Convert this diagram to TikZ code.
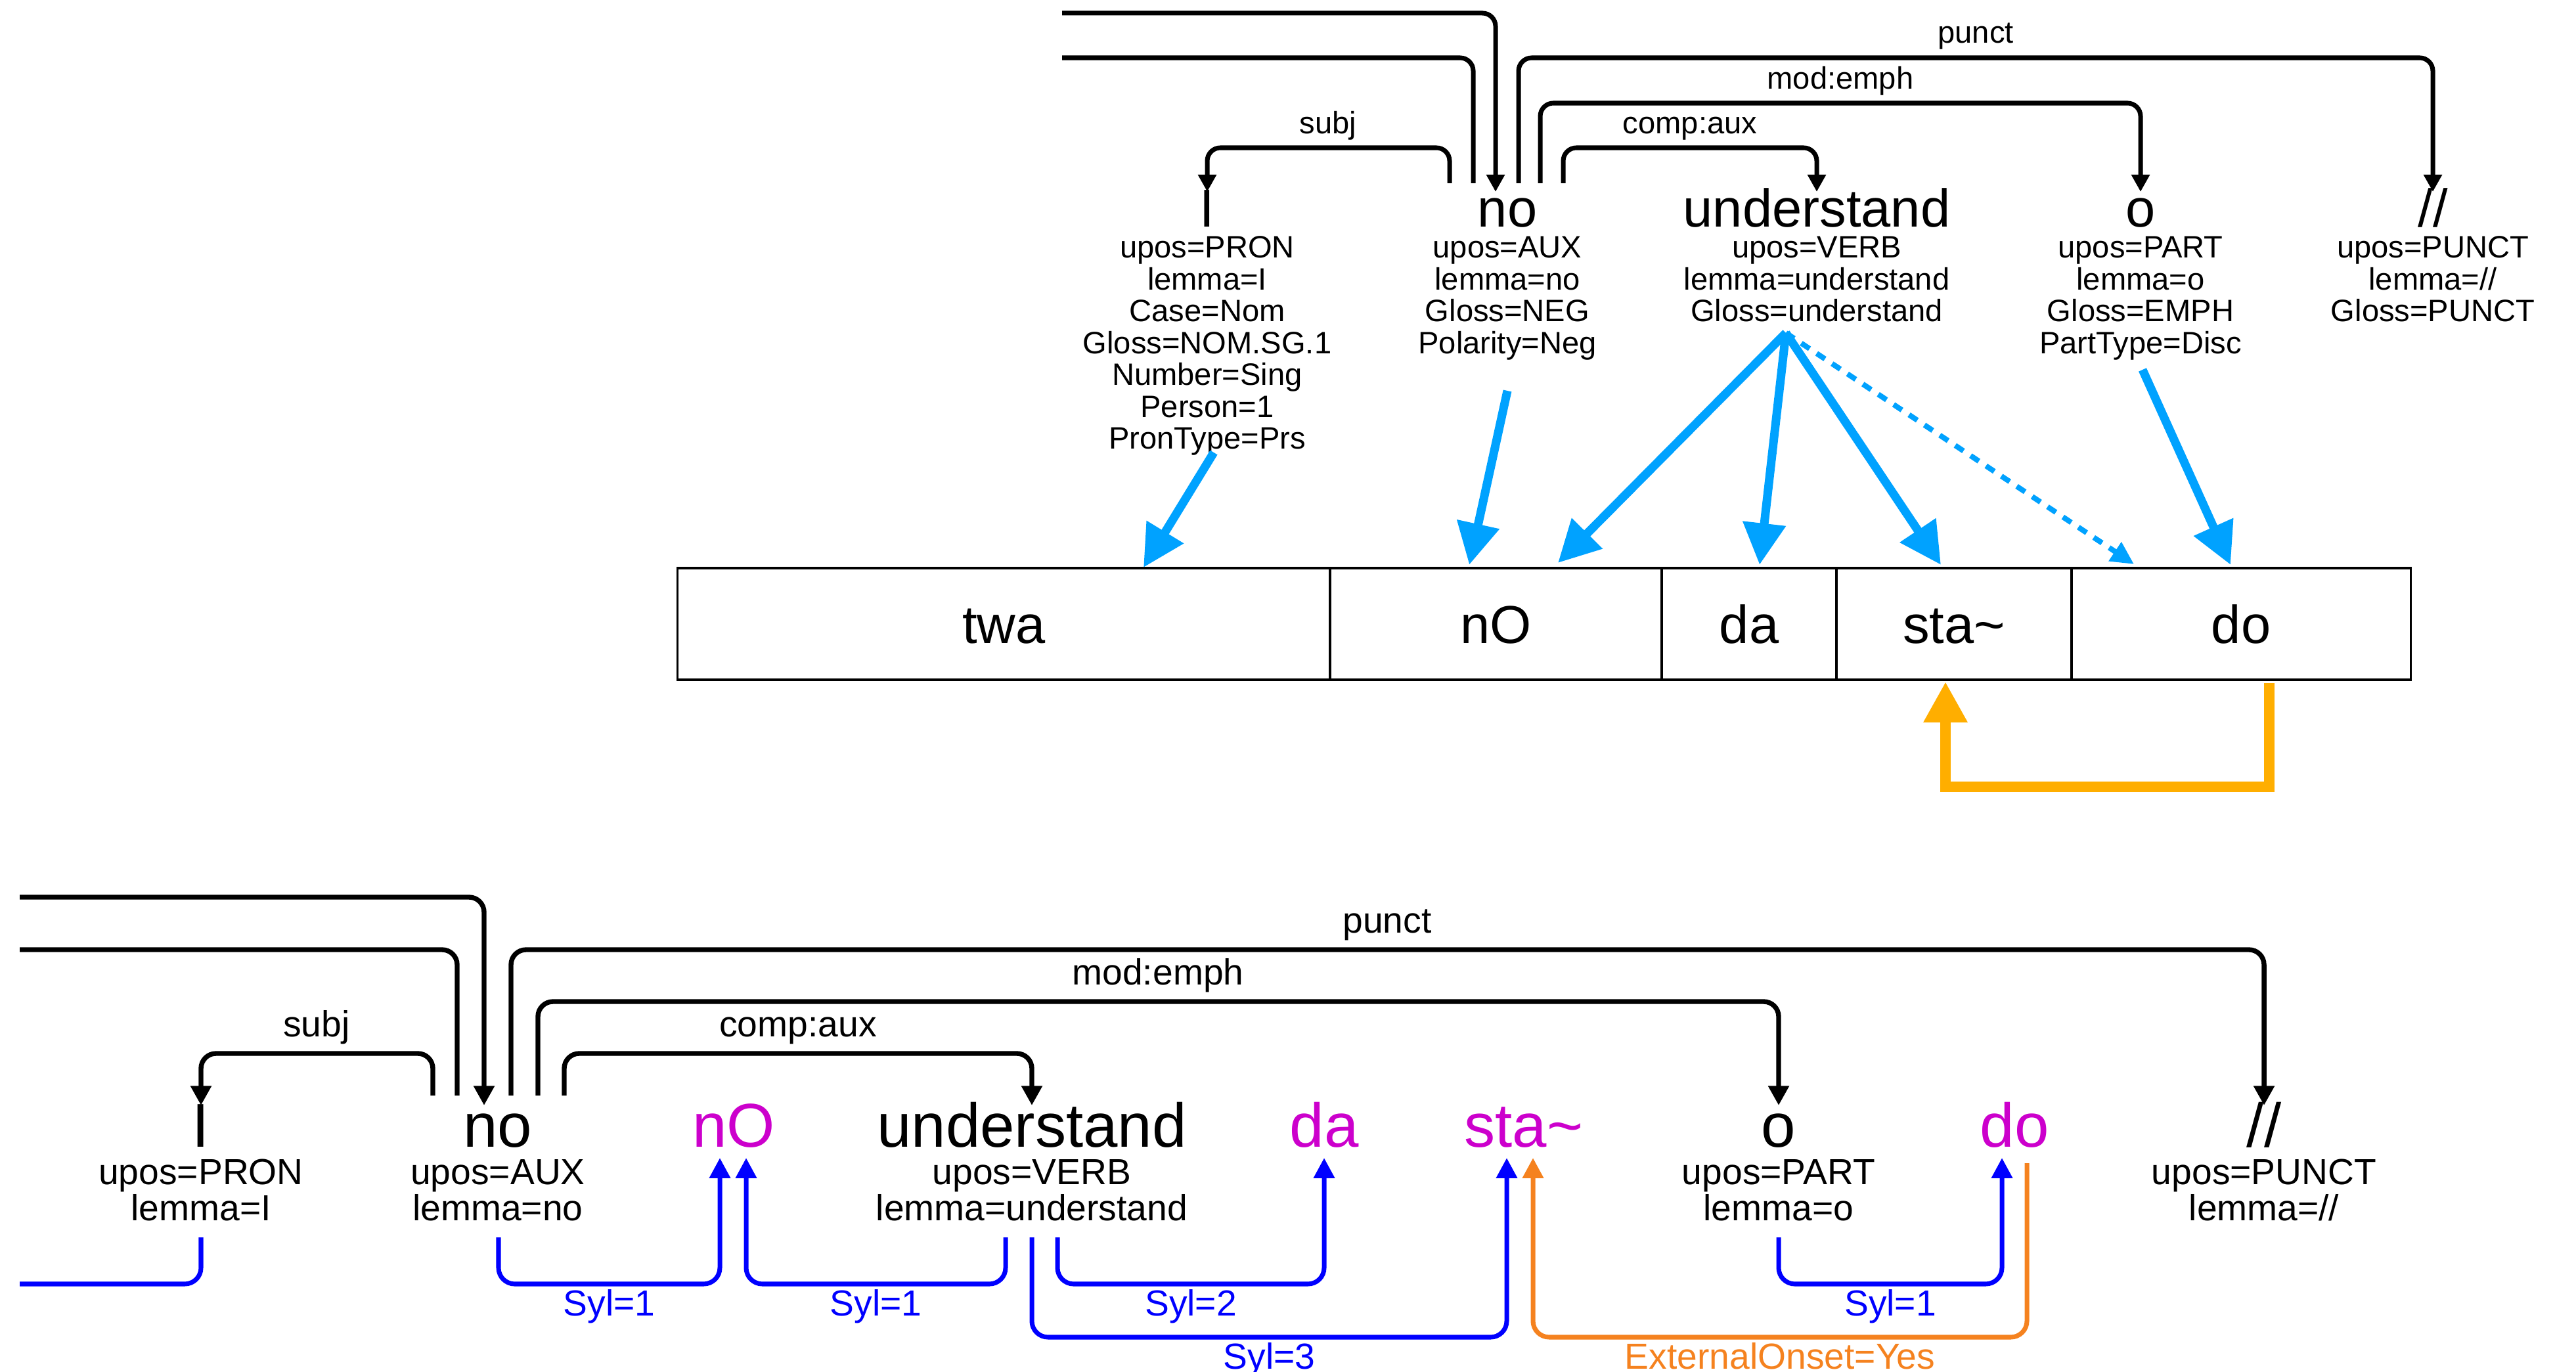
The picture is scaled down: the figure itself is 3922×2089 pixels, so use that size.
\documentclass[tikz,border=0pt]{standalone}
\usepackage{fontspec}
\setmainfont{Liberation Sans}
\usetikzlibrary{arrows.meta}
\definecolor{sky}{HTML}{00A2FF}
\definecolor{amber}{HTML}{FFAE00}
\definecolor{sylblue}{HTML}{0000FF}
\definecolor{onset}{HTML}{F5821F}
\definecolor{syllable}{HTML}{CC00CC}
\begin{document}
\begin{tikzpicture}[x=0.01cm,y=-0.01cm,
  wtop/.style={font=\fontsize{23.1}{27}\selectfont,anchor=base,inner sep=0pt},
  ftop/.style={font=\fontsize{13.4}{14}\selectfont,anchor=base,inner sep=0pt},
  wbot/.style={font=\fontsize{26.8}{31}\selectfont,anchor=base,inner sep=0pt},
  fbot/.style={font=\fontsize{15.7}{17}\selectfont,anchor=base,inner sep=0pt},
  syl/.style={fbot,text=sylblue},
  sylword/.style={wbot,text=syllable},
  cell/.style={draw,line width=0.9pt,minimum height=1.7cm,inner sep=0pt,
    text height=17pt,text depth=0pt,font=\fontsize{23.1}{27}\selectfont},
  deptop/.style={draw,line width=2pt,rounded corners=5.7pt},
  deptoparr/.style={deptop,-{Triangle[width=7.6pt,length=7.4pt]}},
  depbot/.style={draw,line width=2.1pt,rounded corners=6.5pt},
  depbotarr/.style={depbot,-{Triangle[width=8.6pt,length=8.4pt]}},
  align/.style={draw=sky,line width=3.7pt,-{Triangle[width=17.9pt,length=18pt]}},
  alignweak/.style={draw=sky,line width=2.3pt,dash pattern=on 4.3pt off 3.7pt,
    -{Triangle[width=9.4pt,length=9.9pt]}},
  sylarr/.style={draw=sylblue,line width=2pt,rounded corners=7pt,
    -{Triangle[width=8.8pt,length=8.8pt]}},
  sylline/.style={draw=sylblue,line width=2pt,rounded corners=7pt},
  onsetarr/.style={draw=onset,line width=2pt,rounded corners=7pt,
    -{Triangle[width=8.8pt,length=8.8pt]}}
]
\useasboundingbox[fill=white] (0,0) rectangle (3922,2089);

% ---------------- upper tree ----------------
\node[wtop] (tI)   at (1838,346) {I};
\node[wtop] (tno)  at (2295,346) {no};
\node[wtop] (tund) at (2766,346) {understand};
\node[wtop] (to)   at (3259,346) {o};
\node[wtop] (tpun) at (3704,346) {//};

\foreach \t [count=\k from 0] in {upos=PRON,lemma=I,Case=Nom,Gloss=NOM.SG.1,Number=Sing,Person=1,PronType=Prs}
  \node[ftop] (tI-\k) at (1838,393+48.5*\k) {\t};
\foreach \t [count=\k from 0] in {upos=AUX,lemma=no,Gloss=NEG,Polarity=Neg}
  \node[ftop] (tno-\k) at (2295,393+48.5*\k) {\t};
\foreach \t [count=\k from 0] in {upos=VERB,lemma=understand,Gloss=understand}
  \node[ftop] (tund-\k) at (2766,393+48.5*\k) {\t};
\foreach \t [count=\k from 0] in {upos=PART,lemma=o,Gloss=EMPH,PartType=Disc}
  \node[ftop] (to-\k) at (3259,393+48.5*\k) {\t};
\foreach \t [count=\k from 0] in {upos=PUNCT,lemma=//,Gloss=PUNCT}
  \node[ftop] (tpun-\k) at (3704,393+48.5*\k) {\t};

% dependency arcs
\draw[deptoparr] (1617,20) -- (2277,20) -- (2277,292);
\draw[deptop] (2243,279) -- (2243,88) -- (1617,88);
\draw[deptoparr] (2207,279) -- (2207,225) -- (1838,225) -- (1838,292);
\draw[deptoparr] (2380,279) -- (2380,225) -- (2766,225) -- (2766,292);
\draw[deptoparr] (2345,279) -- (2345,157) -- (3259,157) -- (3259,292);
\draw[deptoparr] (2312,279) -- (2312,88) -- (3704,88) -- (3704,292);
\node[ftop] (tl-subj)  at (2022,204) {subj};
\node[ftop] (tl-comp)  at (2573,204) {comp:aux};
\node[ftop] (tl-mod)   at (2802,136) {mod:emph};
\node[ftop] (tl-punct) at (3008,66)  {punct};

% syllable strip
\node[cell,minimum width=9.93cm] (c-twa) at (1528.5,950) {twa};
\node[cell,minimum width=5.05cm] (c-nO)  at (2277.5,950) {nO};
\node[cell,minimum width=2.66cm] (c-da)  at (2663,950)   {da};
\node[cell,minimum width=3.58cm] (c-sta) at (2975,950)   {sta\textasciitilde};
\node[cell,minimum width=5.16cm] (c-do)  at (3412,950)   {do};

% word-to-syllable alignment
\coordinate (apex) at (2719,507);
\draw[align] (1848,689) -- (1741,864);
\draw[align] (2295,595) -- (2237,860);
\draw[align] (apex) -- (2372,857);
\draw[align] (apex) -- (2679,860);
\draw[align] (apex) -- (2955,860);
\draw[alignweak] (apex) -- (3249,859);
\draw[align] (3262,563) -- (3396,860);

% onset link
\draw[draw=amber,line width=4.5pt,-{Triangle[width=17.9pt,length=17.6pt]}]
  (3455,1040) -- (3455,1198) -- (2962,1198) -- (2962,1038);

% ---------------- lower tree ----------------
\node[wbot] (bI)   at (306,1746)  {I};
\node[wbot] (bno)  at (758,1746)  {no};
\node[sylword] (bnO)  at (1117,1746) {nO};
\node[wbot] (bund) at (1571,1746) {understand};
\node[sylword] (bda)  at (2016,1746) {da};
\node[sylword] (bsta) at (2320,1746) {sta\textasciitilde};
\node[wbot] (bo)   at (2708,1746) {o};
\node[sylword] (bdo)  at (3067,1746) {do};
\node[wbot] (bpun) at (3447,1746) {//};

\node[fbot] (bI-0)   at (306,1803)  {upos=PRON};
\node[fbot] (bI-1)   at (306,1858.5) {lemma=I};
\node[fbot] (bno-0)  at (758,1803)  {upos=AUX};
\node[fbot] (bno-1)  at (758,1858.5) {lemma=no};
\node[fbot] (bund-0) at (1571,1803) {upos=VERB};
\node[fbot] (bund-1) at (1571,1858.5) {lemma=understand};
\node[fbot] (bo-0)   at (2708,1803) {upos=PART};
\node[fbot] (bo-1)   at (2708,1858.5) {lemma=o};
\node[fbot] (bpun-0) at (3447,1803) {upos=PUNCT};
\node[fbot] (bpun-1) at (3447,1858.5) {lemma=//};

% dependency arcs
\draw[depbotarr] (30,1366) -- (737,1366) -- (737,1683);
\draw[depbot] (696,1668) -- (696,1446) -- (30,1446);
\draw[depbotarr] (659,1668) -- (659,1604) -- (306,1604) -- (306,1683);
\draw[depbotarr] (778,1668) -- (778,1446) -- (3447,1446) -- (3447,1683);
\draw[depbotarr] (819,1668) -- (819,1525) -- (2708,1525) -- (2708,1683);
\draw[depbotarr] (859,1668) -- (859,1604) -- (1571,1604) -- (1571,1683);
\node[fbot] (bl-subj)  at (482,1578)  {subj};
\node[fbot] (bl-comp)  at (1215,1578) {comp:aux};
\node[fbot] (bl-mod)   at (1763,1499) {mod:emph};
\node[fbot] (bl-punct) at (2112,1420) {punct};

% syllable links
\draw[sylline] (306,1884) -- (306,1955) -- (30,1955);
\draw[sylarr] (759,1884) -- (759,1955) -- (1096,1955) -- (1096,1763);
\draw[sylarr] (1531,1884) -- (1531,1955) -- (1136,1955) -- (1136,1763);
\draw[sylarr] (1610,1884) -- (1610,1955) -- (2016,1955) -- (2016,1763);
\draw[sylarr] (1571,1884) -- (1571,2036) -- (2294,2036) -- (2294,1763);
\draw[sylarr] (2708,1884) -- (2708,1955) -- (3048,1955) -- (3048,1763);
\draw[onsetarr] (3086,1771) -- (3086,2036) -- (2334,2036) -- (2334,1763);
\node[syl] (s1) at (927.5,2003)  {Syl=1};
\node[syl] (s2) at (1333.5,2003) {Syl=1};
\node[syl] (s3) at (1813,2003)   {Syl=2};
\node[syl] (s4) at (1932.5,2084) {Syl=3};
\node[syl] (s5) at (2878,2003)   {Syl=1};
\node[fbot,text=onset] (s6) at (2710,2084) {ExternalOnset=Yes};
\end{tikzpicture}
\end{document}
